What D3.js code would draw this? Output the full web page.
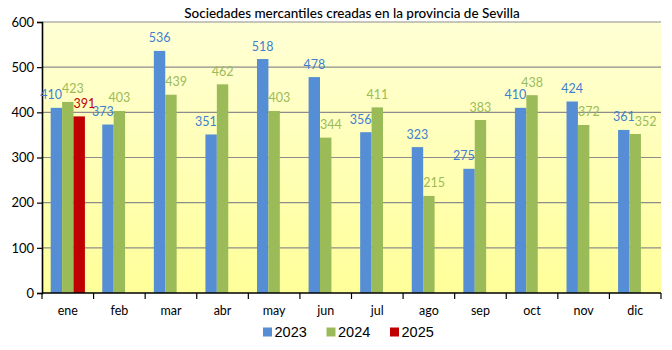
<!DOCTYPE html>
<html><head><meta charset="utf-8">
<script src="https://cdn.jsdelivr.net/npm/d3@7"></script>
<style>html,body{margin:0;padding:0;background:#fff;}svg{display:block;}</style>
</head><body>
<svg id="chart" width="672" height="350"></svg>
<script>
const months = ["ene","feb","mar","abr","may","jun","jul","ago","sep","oct","nov","dic"];
const seriesNames = ["2023","2024","2025"];
const v2023 = [410,373,536,351,518,478,356,323,275,410,424,361];
const v2024 = [423,403,439,462,403,344,411,215,383,438,372,352];
const v2025 = [391];
const yTicks = [0,100,200,300,400,500,600];
const title = "Sociedades mercantiles creadas en la provincia de Sevilla";

const seriesValues = [v2023, v2024, v2025];
const barColors = ["#558ED5","#9BBB59","#C00000"];
const labelColors = ["#3F7FD0","#9BBB59","#C00000"];

const svg = d3.select("#chart");
const M = {left:42, right:661, top:22, bottom:293};

const defs = svg.append("defs");
const grad = defs.append("linearGradient").attr("id","bg").attr("x1",0).attr("y1",0).attr("x2",0).attr("y2",1);
grad.append("stop").attr("offset","0%").attr("stop-color","#FFFFD6");
grad.append("stop").attr("offset","100%").attr("stop-color","#FFFF99");

const x0 = d3.scaleBand().domain(months).range([M.left, M.right]).paddingInner(0).paddingOuter(0);
const x1 = d3.scaleBand().domain(seriesNames).range([0, x0.bandwidth()]).paddingInner(0).paddingOuter(0.76);
const y = d3.scaleLinear().domain([0,600]).range([M.bottom, M.top]);

svg.append("rect").attr("x",M.left).attr("y",M.top).attr("width",M.right-M.left).attr("height",M.bottom-M.top).attr("fill","url(#bg)");

// gridlines
svg.append("g").selectAll("line").data(yTicks.filter(d=>d>0)).join("line")
  .attr("x1",M.left).attr("x2",M.right).attr("y1",d=>y(d)).attr("y2",d=>y(d))
  .attr("stroke","#8C8C8C").attr("stroke-width",1.2);

// bars
const bars = [];
seriesValues.forEach((vals, si) => {
  vals.forEach((v, mi) => {
    bars.push({si, mi, v, x: x0(months[mi]) + x1(seriesNames[si]), w: x1.bandwidth(), top: y(v)});
  });
});
svg.append("g").selectAll("rect").data(bars).join("rect")
  .attr("x",d=>d.x).attr("y",d=>d.top).attr("width",d=>d.w).attr("height",d=>M.bottom-d.top)
  .attr("fill",d=>barColors[d.si]);

// axes
const yAxis = d3.axisLeft(y).tickValues(yTicks).tickSize(5).tickPadding(3);
const gy = svg.append("g").attr("transform",`translate(${M.left},0)`).call(yAxis);
gy.select(".domain").attr("stroke","#000").attr("stroke-width",1.6);
gy.selectAll(".tick line").attr("stroke","#000").attr("stroke-width",1.2);
gy.selectAll(".tick text").attr("font-family","Lato, sans-serif").attr("font-size",13).attr("fill","#000");

const gx = svg.append("g").attr("transform",`translate(0,${M.bottom})`);
gx.append("line").attr("x1",M.left).attr("x2",M.right).attr("y1",0).attr("y2",0).attr("stroke","#000").attr("stroke-width",1.6);
const bounds = months.map(m=>x0(m)).concat([x0(months[months.length-1])+x0.bandwidth()]);
gx.selectAll("line.tk").data(bounds).join("line").attr("class","tk")
  .attr("x1",d=>d).attr("x2",d=>d).attr("y1",0).attr("y2",6).attr("stroke","#000").attr("stroke-width",1.2);
gx.selectAll("text").data(months).join("text")
  .attr("x",d=>x0(d)+x0.bandwidth()/2).attr("y",22).attr("text-anchor","middle")
  .attr("font-family","Lato, sans-serif").attr("font-size",12.5).attr("fill","#000").text(d=>d);

// value labels with simple overlap avoidance
const lg = svg.append("g");
const labels = bars.map(b => {
  const t = lg.append("text").attr("font-family","Lato, sans-serif").attr("font-size",12.5)
    .attr("fill",labelColors[b.si]).attr("text-anchor","middle").text(b.v);
  const w = t.node().getComputedTextLength();
  return {b, t, w, cx: b.x + b.w/2, base: b.top - 8.5};
});
months.forEach((m, mi) => {
  const grp = labels.filter(l => l.b.mi === mi).sort((a,b)=>a.b.si-b.b.si);
  // push away from taller neighbor bars
  grp.forEach((l, i) => {
    const left = grp[i-1], right = grp[i+1];
    const bottom = l.b.top - 2;
    if (right && right.b.top < bottom && l.cx + l.w/2 > right.b.x) l.cx = right.b.x - l.w/2;
    else if (left && left.b.top < bottom && l.cx - l.w/2 < left.b.x + left.b.w) l.cx = left.b.x + left.b.w + l.w/2;
  });
  // label-label collisions
  for (let i = 1; i < grp.length; i++) {
    const a = grp[i-1], c = grp[i];
    const yOverlap = Math.abs(a.base - c.base) < 10;
    const need = (a.w + c.w)/2;
    if (yOverlap && c.cx - a.cx < need) c.cx = a.cx + need;
  }
  grp.forEach(l => l.t.attr("x", l.cx).attr("y", l.base));
});

// title
svg.append("text").attr("x",352).attr("y",18).attr("text-anchor","middle")
  .attr("font-family","Lato, sans-serif").attr("font-size",13.5).attr("font-weight",500).attr("fill","#000").text(title);

// legend
const leg = svg.append("g");
seriesNames.forEach((s, i) => {
  const lx = 263 + i*63.5;
  leg.append("rect").attr("x",lx).attr("y",327.5).attr("width",9).attr("height",9).attr("fill",barColors[i]);
  leg.append("text").attr("x",lx+11.5).attr("y",337).attr("font-family","'Liberation Sans', Arial, sans-serif")
    .attr("font-size",14.5).attr("fill","#000").text(s);
});
</script>
</body></html>
